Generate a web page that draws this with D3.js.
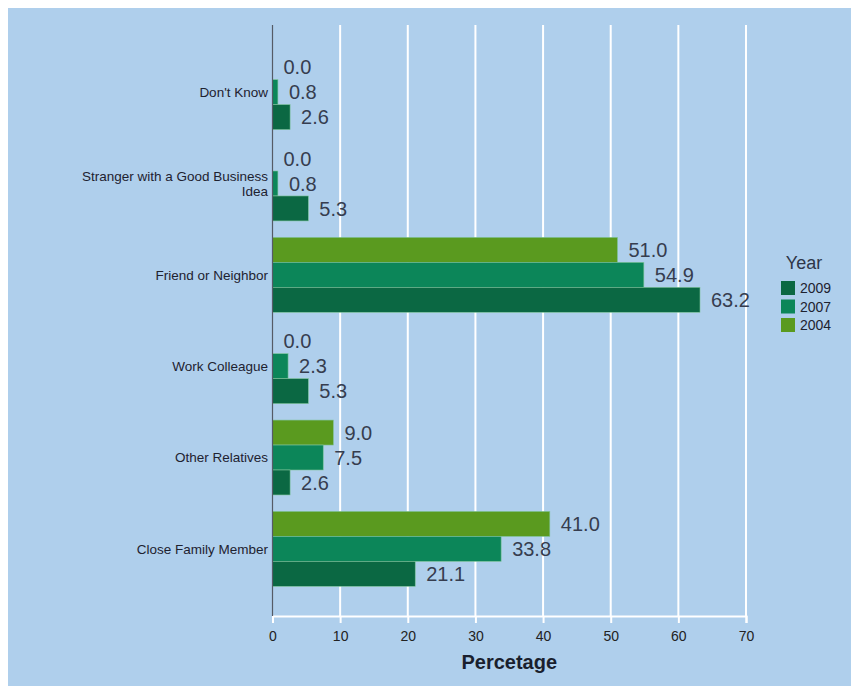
<!DOCTYPE html>
<html>
<head>
<meta charset="utf-8">
<script src="https://cdn.jsdelivr.net/npm/d3@7"></script>
<style>
  body { margin: 0; background: #ffffff; }
  svg { display: block; }
  text { font-family: "Liberation Sans", Arial, sans-serif; }
</style>
</head>
<body>
<svg id="chart" width="851" height="686"></svg>
<script>
// ---- data ----
const categories = ["Don't Know", "Stranger with a Good Business Idea", "Friend or Neighbor",
                    "Work Colleague", "Other Relatives", "Close Family Member"];
const years = ["2004", "2007", "2009"];          // top-to-bottom order within a group
const legendYears = ["2009", "2007", "2004"];
const values2009 = [2.6, 5.3, 63.2, 5.3, 2.6, 21.1];
const values2007 = [0.8, 0.8, 54.9, 2.3, 7.5, 33.8];
const values2004 = [0.0, 0.0, 51.0, 0.0, 9.0, 41.0];
const xTicks = [0, 10, 20, 30, 40, 50, 60, 70];
const colors = { "2009": "#0b6843", "2007": "#0c8659", "2004": "#5a9a1f" };

const seriesByYear = { "2009": values2009, "2007": values2007, "2004": values2004 };
const rows = [];
categories.forEach((c, i) => years.forEach(y => rows.push({ cat: c, year: y, value: seriesByYear[y][i] })));

// ---- layout ----
const svg = d3.select("#chart");
svg.append("rect").attr("x", 8).attr("y", 8).attr("width", 843).attr("height", 678).attr("fill", "#afcfec");

const plotTop = 25, plotBottom = 616;
const x = d3.scaleLinear().domain([0, 70]).range([272.5, 746]);
const y0 = d3.scaleBand().domain(categories).range([plotTop, plotBottom]).paddingInner(0.18).paddingOuter(0.325);
const y1 = d3.scaleBand().domain(years).range([0, y0.bandwidth()]);

// grid lines
svg.append("g").selectAll("line").data(xTicks.filter(t => t > 0)).join("line")
  .attr("x1", d => x(d)).attr("x2", d => x(d))
  .attr("y1", plotTop).attr("y2", plotBottom)
  .attr("stroke", "#ffffff").attr("stroke-width", 2);

// bottom axis
const xAxis = d3.axisBottom(x).tickValues(xTicks).tickSize(7).tickPadding(8).tickFormat(d3.format("d"));
const gx = svg.append("g").attr("transform", `translate(0,${plotBottom})`).call(xAxis);
gx.select(".domain").attr("stroke", "#ffffff").attr("stroke-width", 2);
gx.selectAll(".tick line").attr("stroke", "#ffffff").attr("stroke-width", 2);
gx.selectAll(".tick text").attr("fill", "#222").attr("font-size", 14)
  .attr("font-family", "'Liberation Sans', Arial, sans-serif");

svg.append("text").attr("x", (x(0) + x(70)) / 2).attr("y", 669)
  .attr("text-anchor", "middle").attr("font-size", 20).attr("font-weight", "bold")
  .attr("fill", "#1a1f2e").text("Percetage");

// bars
const bars = svg.append("g");
bars.selectAll("rect").data(rows).join("rect")
  .attr("x", x(0))
  .attr("y", d => y0(d.cat) + y1(d.year))
  .attr("width", d => x(d.value) - x(0))
  .attr("height", y1.bandwidth())
  .attr("fill", d => colors[d.year])
  .attr("stroke", d => d.value > 0 ? "#7fc49a" : "none")
  .attr("stroke-width", 0.6);

// value labels
svg.append("g").selectAll("text").data(rows).join("text")
  .attr("x", d => x(d.value) + 11)
  .attr("y", d => y0(d.cat) + y1(d.year) + y1.bandwidth() / 2)
  .attr("dy", "0.36em")
  .attr("font-size", 20).attr("fill", "#363d4f")
  .text(d => d3.format(".1f")(d.value));

// left axis line
svg.append("line").attr("x1", x(0)).attr("x2", x(0)).attr("y1", plotTop).attr("y2", plotBottom)
  .attr("stroke", "#555b66").attr("stroke-width", 1.2);

// category labels with wrapping
const catG = svg.append("g");
categories.forEach(c => {
  const cy = y0(c) + y0.bandwidth() / 2;
  const t = catG.append("text").attr("x", 268).attr("text-anchor", "end")
    .attr("font-size", 13.5).attr("fill", "#1e2230");
  const words = c.split(" ");
  const lines = [];
  let line = [];
  const probe = t.append("tspan");
  words.forEach(w => {
    line.push(w);
    probe.text(line.join(" "));
    if (probe.node().getComputedTextLength() > 215 && line.length > 1) {
      line.pop();
      lines.push(line.join(" "));
      line = [w];
    }
  });
  lines.push(line.join(" "));
  probe.remove();
  const lh = 15;
  lines.forEach((l, i) => {
    t.append("tspan").attr("x", 268)
      .attr("y", cy + (i - (lines.length - 1) / 2) * lh)
      .attr("dy", "0.35em").text(l);
  });
});

// legend
const lg = svg.append("g");
lg.append("text").attr("x", 804).attr("y", 269).attr("text-anchor", "middle")
  .attr("font-size", 18).attr("fill", "#2e3648").text("Year");
legendYears.forEach((yv, i) => {
  lg.append("rect").attr("x", 781).attr("y", 281 + i * 18.5).attr("width", 14).attr("height", 14)
    .attr("fill", colors[yv]);
  lg.append("text").attr("x", 800).attr("y", 288 + i * 18.5).attr("dy", "0.36em")
    .attr("font-size", 14).attr("fill", "#1e2230").text(yv);
});
</script>
</body>
</html>
